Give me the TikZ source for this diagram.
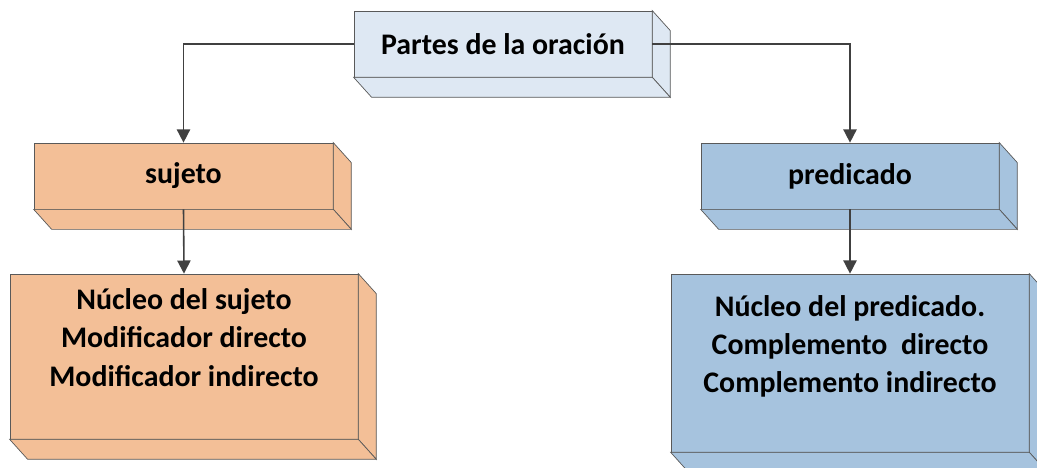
\documentclass[tikz,border=0pt]{standalone}
\usepackage{fontspec}
\setmainfont{Carlito}
\usetikzlibrary{arrows.meta,calc}

\definecolor{borde}{HTML}{595959}
\definecolor{linea}{HTML}{404040}
\definecolor{celeste}{HTML}{DEE8F3}
\definecolor{durazno}{HTML}{F3BF97}
\definecolor{azulgris}{HTML}{A6C3DE}

\tikzset{
  caja/.style={draw=borde, thin, inner sep=0pt, align=center,
    font=\fontsize{17}{21.8}\selectfont\bfseries},
  conector/.style={draw=linea, line width=0.9pt, -{Triangle[width=7.5pt,length=7.5pt]}}
}

% right and bottom faces of a box
\newcommand{\relieve}[2]{%
  \filldraw[fill=#2, draw=borde, thin] (#1.north east) -- ++(18,20) -- ($(#1.south east)+(18,20)$) -- (#1.south east) -- cycle;
  \filldraw[fill=#2, draw=borde, thin] (#1.south west) -- ++(18,20) -- ($(#1.south east)+(18,20)$) -- (#1.south east) -- cycle;
}

\begin{document}
\begin{tikzpicture}[x=0.02cm, y=-0.02cm]
            \clip (0,0) rectangle (1037,467);

            % Boxes
            \node[caja, fill=celeste, minimum width=5.96cm, minimum height=1.32cm] (partes) at (503,44) {Partes de la oración};
            \node[caja, fill=durazno, minimum width=5.98cm, minimum height=1.32cm] (sujeto) at (183.5,176) {sujeto};
            \node[caja, fill=azulgris, minimum width=5.96cm, minimum height=1.32cm] (predicado) at (850,176) {predicado};
            \node[caja, fill=durazno, minimum width=6.96cm, minimum height=3.30cm] (nucleosujeto) at (184,356.5)
                {Núcleo del sujeto\\Modificador directo\\Modificador indirecto\\\mbox{}};
            \node[caja, fill=azulgris, minimum width=7.16cm, minimum height=3.56cm] (nucleopredicado) at (850,363)
                {Núcleo del predicado.\\Complemento~ directo\\Complemento indirecto\\\mbox{}};

            % Depth
            \relieve{partes}{celeste}
            \relieve{sujeto}{durazno}
            \relieve{predicado}{azulgris}
            \relieve{nucleosujeto}{durazno}
            \relieve{nucleopredicado}{azulgris}

            % Connectors
            \draw[conector] (partes.west) -| (sujeto.north);
            \draw[conector] (partes.east) -| (predicado.north);
            \draw[conector] (sujeto.south) -- (nucleosujeto.north);
            \draw[conector] (predicado.south) -- (nucleopredicado.north);
\end{tikzpicture}
\end{document}
